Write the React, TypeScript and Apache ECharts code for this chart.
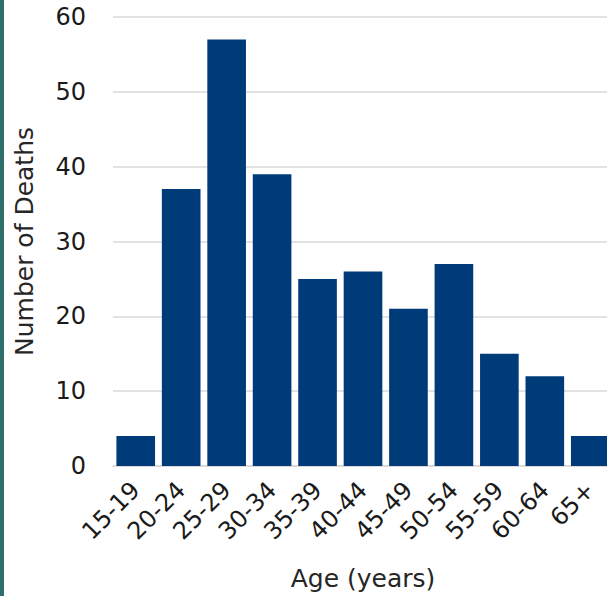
import React, { useEffect, useRef } from "react";
import * as echarts from "echarts";

const categories = ["15-19", "20-24", "25-29", "30-34", "35-39", "40-44", "45-49", "50-54", "55-59", "60-64", "65+"];
const deaths = [4, 37, 57, 39, 25, 26, 21, 27, 15, 12, 4];

export default function App() {
  const ref = useRef<HTMLDivElement>(null);
  useEffect(() => {
    document.body.style.margin = "0";
    document.body.style.overflow = "hidden";
    const chart = echarts.init(ref.current!, null, { renderer: "svg" });
    const font = "'DejaVu Sans', sans-serif";
    chart.setOption({
      animation: false,
      backgroundColor: "#ffffff",
      graphic: [
        { type: "rect", left: 0, top: 0, shape: { width: 4, height: 596 }, style: { fill: "#2f6f6b" } },
      ],
      grid: { left: 113, right: 1, top: 17, bottom: 130, outerBoundsMode: "none", containLabel: false },
      xAxis: {
        type: "category",
        data: categories,
        name: "Age (years)",
        nameLocation: "middle",
        nameGap: 100,
        nameTextStyle: { fontFamily: font, fontSize: 25, color: "#262626" },
        axisLine: { lineStyle: { color: "#d9d9d9", width: 1.5 } },
        axisTick: { show: false },
        axisLabel: { rotate: 45, fontFamily: font, fontSize: 24, color: "#1a1a1a", margin: 20, interval: 0 },
      },
      yAxis: {
        type: "value",
        min: 0,
        max: 60,
        interval: 10,
        name: "Number of Deaths",
        nameLocation: "middle",
        nameGap: 76,
        nameTextStyle: { fontFamily: font, fontSize: 25, color: "#262626" },
        axisLine: { show: false },
        axisTick: { show: false },
        axisLabel: { fontFamily: font, fontSize: 24, color: "#1a1a1a", margin: 27 },
        splitLine: { lineStyle: { color: "#d9d9d9", width: 1.5 } },
      },
      series: [
        {
          type: "bar",
          data: deaths,
          barCategoryGap: "15%",
          itemStyle: { color: "#003b79" },
        },
      ],
    });
    return () => chart.dispose();
  }, []);
  return <div ref={ref} style={{ width: 614, height: 596 }} />;
}
